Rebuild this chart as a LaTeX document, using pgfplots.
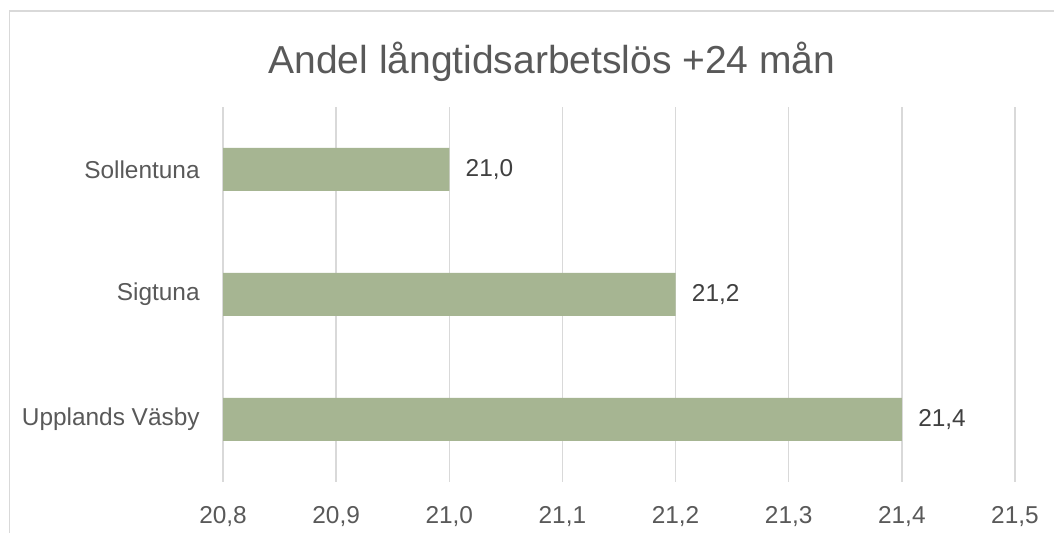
\documentclass[border=0pt]{standalone}
\usepackage{pgfplots}
\pgfplotsset{compat=1.18}
\usepackage{fontspec}
\setmainfont{Liberation Sans}
\definecolor{barg}{HTML}{A6B592}
\definecolor{gridc}{HTML}{D9D9D9}
\definecolor{txt}{HTML}{595959}
\definecolor{vtxt}{HTML}{404040}
\begin{document}
\begin{tikzpicture}
\path[use as bounding box] (0,0) rectangle (527pt,266.5pt);
\fill[white] (0,0) rectangle (527pt,266.5pt);
\draw[gridc, line width=0.8pt] (4.75pt,0) -- (4.75pt,261pt) -- (527pt,261pt);
\node[font=\fontsize{19.5pt}{23pt}\selectfont, text=txt, anchor=center] at (276pt,235.5pt) {Andel långtidsarbetslös +24 mån};
\begin{axis}[
  at={(111.5pt,25.5pt)}, anchor=south west,
  scale only axis, width=396pt, height=187.5pt,
  xbar, bar width=21.5pt,
  xmin=20.8, xmax=21.5,
  ymin=-0.5, ymax=2.5,
  xtick={20.8,20.9,21.0,21.1,21.2,21.3,21.4,21.5},
  ytick={0,1,2},
  yticklabels={Upplands Väsby,Sigtuna,Sollentuna},
  xmajorgrids, major grid style={gridc, line width=0.75pt},
  axis line style={draw=none},
  major tick length=0pt,
  tick style={draw=none},
  /pgf/number format/assume math mode=true,
  /pgf/number format/.cd, fixed, fixed zerofill, precision=1, use comma, /pgfplots/.cd,
  xticklabel style={font=\fontsize{12.2pt}{14pt}\selectfont, text=txt, anchor=center, inner sep=0pt, yshift=-17.5pt},
  yticklabel style={font=\fontsize{12.2pt}{14pt}\selectfont, text=txt, anchor=east, inner sep=0pt, xshift=-11.5pt},
  point meta=x,
  nodes near coords={\pgfmathprintnumber[fixed, fixed zerofill, precision=1, use comma, assume math mode=true]{\pgfplotspointmeta}},
  nodes near coords style={font=\fontsize{12.2pt}{14pt}\selectfont, text=vtxt, anchor=west, inner sep=0pt, xshift=8pt},
  clip=true,
]
\addplot[fill=barg, draw=none] coordinates {(21.4,0) (21.2,1) (21.0,2)};
\end{axis}
\end{tikzpicture}
\end{document}
